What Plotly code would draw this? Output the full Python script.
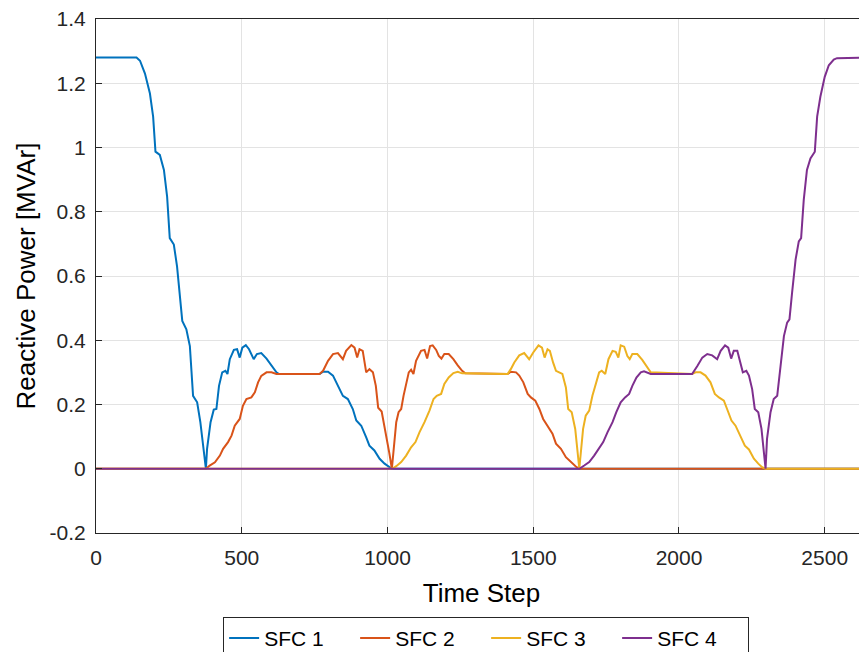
import plotly.graph_objects as go

# ---- data ----
sfc1_t = [0, 139, 151, 168, 185, 196, 204, 219, 233, 244, 253, 267, 278, 288, 296, 310, 322, 333, 347, 358,
          367, 374, 377, 381, 393, 404, 413, 422, 433, 444, 451, 459, 473, 484, 493, 502, 514, 525, 533, 541,
          552, 567, 585, 602, 619, 628, 767, 779, 796, 813, 830, 847, 864, 881, 893, 910, 927, 938, 955, 973,
          990, 1007, 1015, 2645]
sfc1_v = [1.28, 1.28, 1.27, 1.23, 1.168, 1.096, 0.987, 0.977, 0.93, 0.847, 0.718, 0.698, 0.63, 0.527, 0.46,
          0.434, 0.382, 0.227, 0.207, 0.145, 0.072, 0.02, 0, 0.062, 0.145, 0.184, 0.186, 0.258, 0.3, 0.305,
          0.295, 0.341, 0.37, 0.372, 0.346, 0.377, 0.385, 0.372, 0.357, 0.341, 0.357, 0.36, 0.343, 0.32, 0.3,
          0.295, 0.295, 0.302, 0.302, 0.29, 0.258, 0.227, 0.217, 0.186, 0.15, 0.134, 0.098, 0.072, 0.057,
          0.031, 0.016, 0.005, 0, 0]

sfc2_t = [0, 377, 390, 408, 425, 436, 453, 465, 476, 493, 504, 516, 533, 545, 556, 567, 585, 602, 619, 767,
          779, 796, 813, 830, 847, 858, 876, 887, 896, 904, 915, 927, 938, 950, 960, 968, 980, 992, 1006, 1015,
          1024, 1030, 1038, 1047, 1055, 1064, 1073, 1081, 1089, 1098, 1115, 1127, 1136, 1146, 1155, 1167, 1176,
          1185, 1195, 1210, 1226, 1241, 1256, 1267, 1412, 1423, 1441, 1452, 1466, 1481, 1492, 1507, 1521, 1534,
          1549, 1566, 1578, 1595, 1612, 1629, 1646, 1658, 2645]
sfc2_v = [0, 0, 0.01, 0.02, 0.041, 0.062, 0.083, 0.103, 0.134, 0.155, 0.196, 0.217, 0.222, 0.238, 0.269,
          0.289, 0.3, 0.3, 0.295, 0.295, 0.305, 0.336, 0.357, 0.36, 0.341, 0.367, 0.385, 0.377, 0.346, 0.372,
          0.367, 0.3, 0.31, 0.3, 0.258, 0.19, 0.178, 0.124, 0.05, 0, 0.093, 0.145, 0.176, 0.186, 0.227, 0.269,
          0.3, 0.308, 0.295, 0.336, 0.367, 0.37, 0.343, 0.382, 0.384, 0.37, 0.351, 0.343, 0.357, 0.357, 0.341,
          0.322, 0.305, 0.297, 0.295, 0.302, 0.3, 0.29, 0.269, 0.233, 0.222, 0.212, 0.186, 0.155, 0.134, 0.109,
          0.078, 0.062, 0.036, 0.021, 0.007, 0, 0]

sfc3_t = [0, 1016, 1030, 1047, 1064, 1081, 1096, 1110, 1127, 1144, 1158, 1169, 1184, 1195, 1210, 1226, 1241,
          1256, 1412, 1423, 1435, 1452, 1469, 1486, 1500, 1518, 1530, 1539, 1549, 1557, 1568, 1578, 1589, 1600,
          1612, 1620, 1632, 1644, 1658, 1663, 1671, 1680, 1692, 1703, 1715, 1726, 1735, 1747, 1758, 1772, 1783,
          1792, 1800, 1812, 1823, 1831, 1840, 1857, 1874, 1891, 1903, 2045, 2057, 2074, 2091, 2108, 2123, 2137,
          2154, 2165, 2180, 2194, 2211, 2226, 2240, 2257, 2272, 2285, 2297, 2645]
sfc3_v = [0, 0, 0.008, 0.021, 0.041, 0.067, 0.083, 0.114, 0.145, 0.181, 0.217, 0.227, 0.233, 0.264, 0.284,
          0.298, 0.302, 0.297, 0.295, 0.31, 0.331, 0.353, 0.36, 0.341, 0.362, 0.384, 0.377, 0.346, 0.372, 0.367,
          0.331, 0.305, 0.3, 0.295, 0.253, 0.186, 0.176, 0.124, 0, 0.041, 0.124, 0.165, 0.181, 0.227, 0.269,
          0.3, 0.305, 0.295, 0.341, 0.367, 0.364, 0.346, 0.384, 0.38, 0.351, 0.341, 0.357, 0.357, 0.339, 0.315,
          0.3, 0.295, 0.3, 0.3, 0.29, 0.269, 0.233, 0.222, 0.212, 0.186, 0.15, 0.134, 0.103, 0.072, 0.06, 0.031,
          0.016, 0.005, 0, 0]

sfc4_t = [0, 1658, 1675, 1692, 1709, 1726, 1740, 1755, 1772, 1785, 1800, 1815, 1829, 1840, 1854, 1869, 1880,
          1903, 2045, 2063, 2080, 2097, 2114, 2131, 2143, 2158, 2169, 2179, 2188, 2200, 2211, 2219, 2231, 2240,
          2251, 2260, 2272, 2283, 2297, 2302, 2314, 2325, 2337, 2348, 2360, 2371, 2379, 2388, 2400, 2411, 2419,
          2428, 2439, 2451, 2466, 2474, 2485, 2500, 2514, 2531, 2542, 2645]
sfc4_v = [0, 0, 0.01, 0.021, 0.041, 0.062, 0.083, 0.114, 0.145, 0.176, 0.207, 0.222, 0.233, 0.258, 0.284,
          0.3, 0.303, 0.295, 0.295, 0.32, 0.346, 0.357, 0.353, 0.341, 0.367, 0.384, 0.377, 0.343, 0.367, 0.367,
          0.331, 0.3, 0.305, 0.29, 0.248, 0.186, 0.176, 0.124, 0, 0.093, 0.176, 0.217, 0.227, 0.31, 0.413,
          0.455, 0.465, 0.548, 0.651, 0.708, 0.718, 0.837, 0.93, 0.966, 0.987, 1.096, 1.158, 1.22, 1.256,
          1.274, 1.278, 1.28]

series_names = ["SFC 1", "SFC 2", "SFC 3", "SFC 4"]
x_tick_vals = [0, 500, 1000, 1500, 2000, 2500]
x_tick_text = ["0", "500", "1000", "1500", "2000", "2500"]
y_tick_vals = [-0.2, 0, 0.2, 0.4, 0.6, 0.8, 1.0, 1.2, 1.4]
y_tick_text = ["-0.2", "0", "0.2", "0.4", "0.6", "0.8", "1", "1.2", "1.4"]

# ---- styling ----
colors = ["#0072BD", "#D95319", "#EDB120", "#7E2F8E"]
font_family = "Liberation Sans, Arial, Helvetica, sans-serif"
ink = "#262626"
grid = "#e3e3e3"

fig = go.Figure()
for name, t, v, c in zip(series_names,
                         [sfc1_t, sfc2_t, sfc3_t, sfc4_t],
                         [sfc1_v, sfc2_v, sfc3_v, sfc4_v],
                         colors):
    fig.add_trace(go.Scatter(x=t, y=v, mode="lines", name=name,
                             line=dict(color=c, width=2)))

# the page body adds an 8 px offset, so the figure is sized to the remaining window
fig.update_layout(
    width=859, height=644,
    margin=dict(l=88, r=0, t=11, b=119, autoexpand=False),
    paper_bgcolor="white", plot_bgcolor="white",
    font=dict(family=font_family, color=ink, size=21),
    showlegend=True,
    legend=dict(orientation="h", x=0.506, xanchor="center", y=-0.163, yanchor="top",
                bordercolor=ink, borderwidth=1, bgcolor="white",
                font=dict(size=21, color="#000000"),
                tracegroupgap=0, entrywidth=86, entrywidthmode="pixels"),
)
fig.update_xaxes(
    range=[0, 2645], tickmode="array", tickvals=x_tick_vals, ticktext=x_tick_text,
    ticks="inside", ticklen=6, tickcolor=ink, tickwidth=1,
    showline=True, linecolor=ink, linewidth=1, mirror=True,
    showgrid=True, gridcolor=grid, gridwidth=1, zeroline=False, automargin=False,
    tickfont=dict(size=21, color=ink), ticklabelstandoff=6, ticklabeloverflow="allow",
    title=dict(text="Time Step", font=dict(size=26, color="#000000"), standoff=15),
)
fig.update_yaxes(
    range=[-0.2, 1.4], tickmode="array", tickvals=y_tick_vals, ticktext=y_tick_text,
    ticks="inside", ticklen=6, tickcolor=ink, tickwidth=1,
    showline=True, linecolor=ink, linewidth=1, mirror=True,
    showgrid=True, gridcolor=grid, gridwidth=1, zeroline=False, automargin=False,
    tickfont=dict(size=21, color=ink), ticklabelstandoff=5, ticklabeloverflow="allow",
    title=dict(text="Reactive Power [MVAr]", font=dict(size=26, color="#000000"), standoff=6),
)

fig.write_html("out.html")
